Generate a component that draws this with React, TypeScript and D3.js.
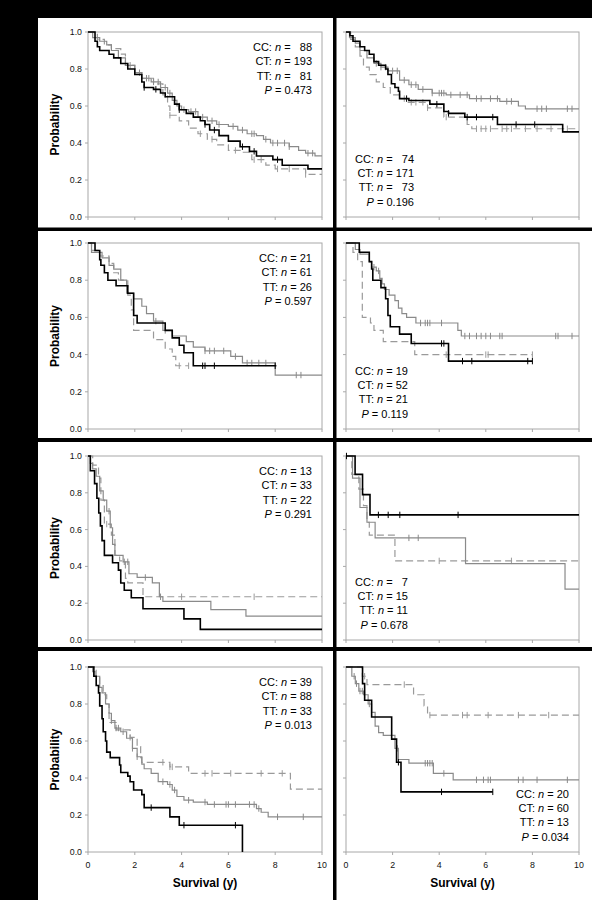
import React from "react";
import * as d3 from "d3";

// ---------- axis ticks & labels ----------
const yTicks = [0, 0.2, 0.4, 0.6, 0.8, 1.0];
const xTicks = [0, 2, 4, 6, 8, 10];
const genotypes = ["CC", "CT", "TT"];

// ---------- Panel A (row 1, left) ----------
const A_CC = [[0,1],[0.3,0.95],[0.4,0.92],[0.5,0.9],[0.9,0.88],[1.1,0.86],[1.4,0.83],[1.7,0.8],[2.0,0.77],[2.3,0.73],[2.4,0.7],[2.8,0.69],[3.1,0.67],[3.3,0.65],[3.7,0.61],[3.9,0.58],[4.2,0.56],[4.5,0.54],[4.8,0.52],[5.0,0.5],[5.2,0.47],[5.6,0.44],[6.0,0.41],[6.5,0.38],[6.9,0.355],[7.2,0.33],[7.9,0.31],[8.3,0.28],[9.4,0.26],[10,0.26]];
const A_CT = [[0,1],[0.2,0.97],[0.5,0.95],[0.8,0.93],[1.0,0.9],[1.3,0.86],[1.6,0.82],[2.0,0.78],[2.3,0.75],[2.7,0.73],[3.1,0.7],[3.4,0.67],[3.6,0.63],[3.8,0.6],[4.0,0.58],[4.3,0.57],[4.7,0.54],[5.1,0.52],[5.5,0.5],[6.0,0.49],[6.4,0.47],[6.8,0.45],[7.2,0.44],[7.5,0.42],[7.8,0.4],[8.6,0.38],[9.0,0.36],[9.3,0.345],[9.7,0.33],[10,0.33]];
const A_TT = [[0,1],[0.4,0.96],[0.7,0.93],[1.0,0.91],[1.4,0.88],[1.6,0.82],[2.0,0.78],[2.3,0.75],[2.8,0.72],[3.2,0.66],[3.4,0.6],[3.5,0.55],[3.9,0.52],[4.3,0.48],[4.7,0.45],[5.1,0.42],[5.5,0.39],[6.0,0.36],[6.5,0.35],[7.0,0.31],[7.6,0.28],[8.0,0.26],[9.3,0.23],[10,0.23]];
const A_CC_cens = [2.4,2.9,3.9,5.0,5.4,6.6,7.1,8.1];
const A_CT_cens = [1.8,2.2,2.5,2.6,2.8,3.0,3.3,3.5,3.9,4.1,4.4,4.6,4.9,5.3,5.6,6.2,6.6,7.0,7.1,7.6,7.9,8.1,8.4,8.6,9.4,9.6];
const A_TT_cens = [3.3,3.5,4.8,5.3,6.3,7.1,7.4,8.1,8.6,9.3];
const A_n = [88,193,81];
const A_P = "0.473";

// ---------- Panel B (row 1, right) ----------
const B_CC = [[0,1],[0.17,0.98],[0.3,0.95],[0.6,0.92],[0.8,0.9],[1.0,0.88],[1.2,0.84],[1.4,0.82],[1.7,0.8],[1.8,0.77],[1.95,0.72],[2.1,0.7],[2.25,0.68],[2.3,0.64],[2.7,0.63],[3.6,0.61],[4.2,0.57],[4.4,0.56],[5.1,0.54],[6.5,0.5],[9.3,0.46],[10,0.46]];
const B_CT = [[0,1],[0.15,0.97],[0.4,0.94],[0.6,0.9],[0.9,0.86],[1.2,0.83],[1.5,0.81],[1.8,0.79],[2.3,0.74],[2.7,0.715],[3.1,0.69],[3.7,0.67],[4.3,0.66],[5.3,0.64],[6.6,0.625],[7.4,0.6],[7.7,0.585],[10,0.585]];
const B_TT = [[0,1],[0.2,0.96],[0.4,0.92],[0.6,0.87],[0.75,0.81],[1.0,0.77],[1.3,0.73],[1.6,0.7],[1.9,0.66],[2.3,0.64],[2.6,0.62],[3.5,0.59],[4.2,0.54],[5.2,0.5],[5.4,0.477],[10,0.477]];
const B_CC_cens = [2.6,3.9,4.4,5.2,5.6,6.3,7.3,8.1];
const B_CT_cens = [1.3,1.5,1.7,2.0,2.2,2.5,2.8,3.0,3.3,3.7,4.0,4.1,4.2,4.5,4.9,5.2,5.6,5.8,6.2,6.5,6.9,7.1,8.2,8.4,8.6,9.5,9.7];
const B_TT_cens = [2.5,2.8,3.0,3.3,3.5,4.3,5.6,5.8,6.0,6.2,6.7,6.9,7.1,7.7,8.2,8.8,9.5];
const B_n = [74,171,73];
const B_P = "0.196";

// ---------- Panel C (row 2, left) ----------
const C_CC = [[0,1],[0.3,0.96],[0.5,0.91],[0.55,0.88],[0.7,0.84],[0.85,0.8],[1.2,0.77],[1.7,0.73],[1.95,0.61],[2.1,0.57],[3.3,0.53],[3.6,0.49],[3.9,0.45],[4.1,0.41],[4.5,0.34],[8.05,0.34]];
const C_CT = [[0,1],[0.15,0.95],[0.6,0.92],[0.9,0.88],[1.1,0.86],[1.4,0.8],[1.65,0.73],[1.95,0.7],[2.3,0.66],[2.5,0.62],[2.8,0.58],[3.2,0.53],[3.6,0.5],[4.2,0.47],[4.5,0.44],[5.0,0.42],[6.1,0.39],[6.6,0.355],[8.0,0.29],[10,0.29]];
const C_TT = [[0,1],[0.15,0.96],[0.5,0.93],[0.9,0.89],[1.1,0.84],[1.3,0.8],[1.7,0.72],[1.85,0.64],[1.95,0.53],[2.8,0.48],[3.3,0.43],[3.6,0.39],[3.75,0.34],[4.3,0.34]];
const C_CC_cens = [4.9,5.0,5.4,8.0];
const C_CT_cens = [2.9,3.3,5.0,5.2,5.4,5.8,6.3,6.8,7.0,7.3,7.6,8.9,9.1];
const C_TT_cens = [3.9,4.3];
const C_n = [21,61,26];
const C_P = "0.597";

// ---------- Panel D (row 2, right) ----------
const D_CC = [[0,1],[0.57,0.95],[1.0,0.9],[1.1,0.86],[1.15,0.8],[1.5,0.76],[1.7,0.7],[1.8,0.61],[1.9,0.55],[2.3,0.51],[2.8,0.46],[4.4,0.365],[8.0,0.365]];
const D_CT = [[0,1],[0.4,0.965],[0.6,0.94],[1.0,0.9],[1.1,0.87],[1.3,0.85],[1.45,0.81],[1.55,0.78],[1.65,0.75],[1.85,0.72],[2.1,0.69],[2.25,0.65],[2.4,0.62],[2.6,0.6],[3.0,0.57],[4.8,0.53],[4.95,0.5],[10,0.5]];
const D_TT = [[0,1],[0.3,0.95],[0.5,0.9],[0.7,0.6],[1.05,0.57],[1.2,0.53],[1.6,0.47],[2.95,0.4],[8.0,0.4]];
const D_CC_cens = [4.1,4.2,5.0,5.4,7.8,8.0];
const D_CT_cens = [1.2,1.4,3.2,3.4,3.5,3.6,4.1,5.1,5.3,5.6,5.8,6.0,6.2,6.6,6.7,9.0,9.1,9.7];
const D_TT_cens = [4.3,6.0,6.1,8.0];
const D_n = [19,52,21];
const D_P = "0.119";

// ---------- Panel E (row 3, left) ----------
const E_CC = [[0,1],[0.1,0.92],[0.28,0.85],[0.38,0.77],[0.46,0.69],[0.53,0.62],[0.6,0.54],[0.7,0.46],[1.05,0.42],[1.3,0.38],[1.4,0.31],[1.55,0.27],[1.85,0.23],[2.35,0.17],[4.1,0.115],[4.8,0.058],[10,0.058]];
const E_CT = [[0,1],[0.1,0.96],[0.2,0.93],[0.35,0.89],[0.5,0.81],[0.65,0.76],[0.8,0.7],[0.95,0.61],[1.05,0.52],[1.15,0.46],[1.5,0.425],[1.75,0.36],[2.1,0.34],[2.75,0.31],[3.05,0.235],[3.2,0.21],[5.25,0.165],[6.75,0.13],[10,0.13]];
const E_TT = [[0,1],[0.2,0.95],[0.45,0.88],[0.55,0.76],[0.7,0.63],[1.0,0.57],[1.15,0.46],[1.35,0.43],[1.6,0.335],[1.7,0.31],[2.35,0.235],[10,0.235]];
const E_CC_cens = [];
const E_CT_cens = [0.9,1.55,1.7,2.45,3.1];
const E_TT_cens = [0.8,4.0,7.1];
const E_n = [13,33,22];
const E_P = "0.291";

// ---------- Panel F (row 3, right) ----------
const F_CC = [[0,1],[0.39,0.9],[0.71,0.79],[1.03,0.68],[10,0.68]];
const F_CT = [[0,1],[0.28,0.88],[0.6,0.72],[0.9,0.64],[1.25,0.555],[5.13,0.415],[9.4,0.277],[10,0.277]];
const F_TT = [[0,1],[0.25,0.9],[0.55,0.82],[0.75,0.73],[0.9,0.64],[1.0,0.57],[2.1,0.43],[10,0.43]];
const F_CC_cens = [0.02,1.39,1.81,2.31,4.81];
const F_CT_cens = [2.7,3.1];
const F_TT_cens = [4.0,7.1];
const F_n = [7,15,11];
const F_P = "0.678";

// ---------- Panel G (row 4, left) ----------
const G_CC = [[0,1],[0.25,0.95],[0.35,0.9],[0.45,0.86],[0.5,0.79],[0.6,0.72],[0.65,0.65],[0.75,0.6],[0.8,0.54],[0.95,0.51],[1.35,0.47],[1.4,0.43],[1.7,0.41],[1.8,0.38],[1.95,0.335],[2.3,0.31],[2.4,0.24],[3.5,0.19],[3.9,0.145],[6.6,0]];
const G_CT = [[0,1],[0.2,0.975],[0.3,0.95],[0.5,0.89],[0.6,0.86],[0.75,0.8],[0.9,0.75],[1.0,0.71],[1.15,0.67],[1.4,0.65],[1.65,0.615],[1.9,0.56],[2.1,0.515],[2.3,0.475],[2.4,0.45],[2.7,0.425],[3.0,0.38],[3.4,0.365],[3.6,0.335],[3.8,0.3],[4.1,0.28],[4.5,0.27],[5.1,0.257],[7.2,0.235],[7.4,0.215],[7.7,0.19],[10,0.19]];
const G_TT = [[0,1],[0.35,0.95],[0.5,0.9],[0.65,0.85],[0.8,0.8],[0.9,0.7],[1.2,0.66],[1.8,0.62],[2.1,0.57],[2.25,0.51],[2.3,0.485],[3.5,0.46],[4.3,0.425],[8.65,0.34],[10,0.34]];
const G_CC_cens = [2.7,4.1,6.3];
const G_CT_cens = [1.0,1.2,1.3,1.5,1.9,2.1,3.2,3.5,3.7,4.3,5.0,5.4,5.9,6.0,6.3,6.9,7.1,7.3,8.1,9.2];
const G_TT_cens = [1.8,3.2,3.5,3.6,5.0,5.3,6.1,7.4,8.3];
const G_n = [39,88,33];
const G_P = "0.013";

// ---------- Panel H (row 4, right) ----------
const H_CC = [[0,1],[0.71,0.91],[0.8,0.82],[1.1,0.73],[1.96,0.61],[2.17,0.485],[2.36,0.325],[6.3,0.325]];
const H_CT = [[0,1],[0.25,0.95],[0.4,0.91],[0.55,0.87],[0.75,0.85],[0.95,0.8],[1.1,0.755],[1.25,0.68],[1.4,0.645],[1.6,0.63],[2.1,0.56],[2.25,0.5],[2.7,0.48],[3.75,0.425],[4.6,0.39],[10,0.39]];
const H_TT = [[0,1],[0.7,0.95],[0.9,0.905],[2.9,0.85],[3.35,0.79],[3.5,0.74],[10,0.74]];
const H_CC_cens = [2.25,4.1,6.3];
const H_CT_cens = [0.35,0.45,0.6,0.7,0.8,1.0,2.2,3.4,3.5,3.6,3.7,4.2,5.6,5.9,6.1,6.2,7.4,7.6,8.2,9.5];
const H_TT_cens = [0.8,2.5,3.6,5.0,5.2,6.1,7.4,8.7];
const H_n = [20,60,13];
const H_P = "0.034";

// ---------- layout ----------
const W = 592, H = 900;
const colX = [[88, 322], [346, 579]];
const rowY = [[32, 217], [243, 429], [456, 640], [667, 852]];

const panels = [
  { row: 0, col: 0, s: [A_CC, A_CT, A_TT], c: [A_CC_cens, A_CT_cens, A_TT_cens], n: A_n, p: A_P, leg: "tr" },
  { row: 0, col: 1, s: [B_CC, B_CT, B_TT], c: [B_CC_cens, B_CT_cens, B_TT_cens], n: B_n, p: B_P, leg: "bl" },
  { row: 1, col: 0, s: [C_CC, C_CT, C_TT], c: [C_CC_cens, C_CT_cens, C_TT_cens], n: C_n, p: C_P, leg: "tr" },
  { row: 1, col: 1, s: [D_CC, D_CT, D_TT], c: [D_CC_cens, D_CT_cens, D_TT_cens], n: D_n, p: D_P, leg: "bl" },
  { row: 2, col: 0, s: [E_CC, E_CT, E_TT], c: [E_CC_cens, E_CT_cens, E_TT_cens], n: E_n, p: E_P, leg: "tr" },
  { row: 2, col: 1, s: [F_CC, F_CT, F_TT], c: [F_CC_cens, F_CT_cens, F_TT_cens], n: F_n, p: F_P, leg: "bl" },
  { row: 3, col: 0, s: [G_CC, G_CT, G_TT], c: [G_CC_cens, G_CT_cens, G_TT_cens], n: G_n, p: G_P, leg: "tr" },
  { row: 3, col: 1, s: [H_CC, H_CT, H_TT], c: [H_CC_cens, H_CT_cens, H_TT_cens], n: H_n, p: H_P, leg: "br" },
];

const styles = [
  { stroke: "#000000", width: 1.6, dash: null },
  { stroke: "#8a8a8a", width: 1.2, dash: null },
  { stroke: "#9a9a9a", width: 1.2, dash: "7,4" },
];

const FONT = "Arial, 'Liberation Sans', Helvetica, sans-serif";

function levelAt(steps: number[][], t: number) {
  let v = steps[0][1];
  for (const [st, sv] of steps) {
    if (st <= t) v = sv; else break;
  }
  return v;
}

function Panel({ p }: { p: any }) {
  const [x0, x1] = colX[p.col];
  const [yT, yB] = rowY[p.row];
  const x = d3.scaleLinear().domain([0, 10]).range([x0, x1]);
  const y = d3.scaleLinear().domain([0, 1]).range([yB, yT]);
  const line = d3.line<number[]>().x(d => x(d[0])).y(d => y(d[1])).curve(d3.curveStepAfter);
  const order = [2, 1, 0];
  const maxLen = Math.max(...p.n.map((v: number) => String(v).length));
  const lh = 14.4;
  let lx: number, ly0: number;
  if (p.leg === "tr") { lx = x1 - 10; ly0 = yT + 15; }
  else if (p.leg === "bl") { lx = x0 + (p.row === 0 ? 68 : 62); ly0 = yB - 15 - 3 * lh; }
  else { lx = x1 - 10; ly0 = yB - 15 - 3 * lh; }
  return (
    <g>
      <rect x={x0} y={yT} width={x1 - x0} height={yB - yT} fill="#fff" stroke="#a8a8a8" strokeWidth={1} />
      {yTicks.map(t => (
        <line key={"yt" + t} x1={x0 - 3} x2={x0} y1={y(t)} y2={y(t)} stroke="#a8a8a8" />
      ))}
      {xTicks.map(t => (
        <line key={"xt" + t} x1={x(t)} x2={x(t)} y1={yB} y2={yB + 3} stroke="#a8a8a8" />
      ))}
      {p.col === 0 && yTicks.map(t => (
        <text key={"yl" + t} x={x0 - 6} y={y(t)} dy="0.35em" textAnchor="end" fontSize={8.8} fontFamily={FONT} fill="#111">{t.toFixed(1)}</text>
      ))}
      {p.col === 0 && (
        <text transform={`translate(${x0 - 33},${(yT + yB) / 2}) rotate(-90)`} textAnchor="middle" dy="0.35em" fontSize={12} fontWeight="bold" fontFamily={FONT} fill="#000">Probability</text>
      )}
      {p.row === 3 && xTicks.map(t => (
        <text key={"xl" + t} x={x(t)} y={yB + 13} dy="0.35em" textAnchor="middle" fontSize={8.8} fontFamily={FONT} fill="#111">{t}</text>
      ))}
      {p.row === 3 && (
        <text x={(x0 + x1) / 2} y={yB + 31} dy="0.35em" textAnchor="middle" fontSize={12} fontWeight="bold" fontFamily={FONT} fill="#000">Survival (y)</text>
      )}
      {order.map(i => (
        <g key={"s" + i}>
          <path d={line(p.s[i]) || ""} fill="none" stroke={styles[i].stroke} strokeWidth={styles[i].width} strokeDasharray={styles[i].dash || undefined} />
          {p.c[i].map((t: number, k: number) => (
            <line key={k} x1={x(t)} x2={x(t)} y1={y(levelAt(p.s[i], t)) - 3.2} y2={y(levelAt(p.s[i], t)) + 3.2} stroke={styles[i].stroke} strokeWidth={1} />
          ))}
        </g>
      ))}
      <g fontFamily={FONT} fontSize={11} fill="#000" textAnchor="end">
        {genotypes.map((g, i) => {
          const s = String(p.n[i]);
          const pad = "\u2007".repeat(maxLen - s.length);
          return (
            <text key={g} x={lx} y={ly0 + i * lh} dy="0.35em" style={{ whiteSpace: "pre" }}>
              {g + ": "}<tspan fontStyle="italic">n</tspan>{" = " + pad + s}
            </text>
          );
        })}
        <text x={lx} y={ly0 + 3 * lh} dy="0.35em" style={{ whiteSpace: "pre" }}>
          <tspan fontStyle="italic">P</tspan>{" = " + p.p}
        </text>
      </g>
    </g>
  );
}

export default function App() {
  return (
    <div style={{ position: "absolute", left: 0, top: 0 }}>
      <svg width={W} height={H} style={{ display: "block" }}>
        <rect x={0} y={0} width={W} height={H} fill="#fff" />
        {panels.map((p, i) => <Panel key={i} p={p} />)}
        <rect x={0} y={0} width={W} height={18} fill="#000" />
        <rect x={0} y={0} width={38} height={H} fill="#000" />
        <rect x={333} y={0} width={3.5} height={H} fill="#000" />
        <rect x={38} y={227.5} width={W - 38} height={3.5} fill="#000" />
        <rect x={38} y={438} width={W - 38} height={4} fill="#000" />
        <rect x={38} y={647} width={W - 38} height={4} fill="#000" />
      </svg>
    </div>
  );
}
